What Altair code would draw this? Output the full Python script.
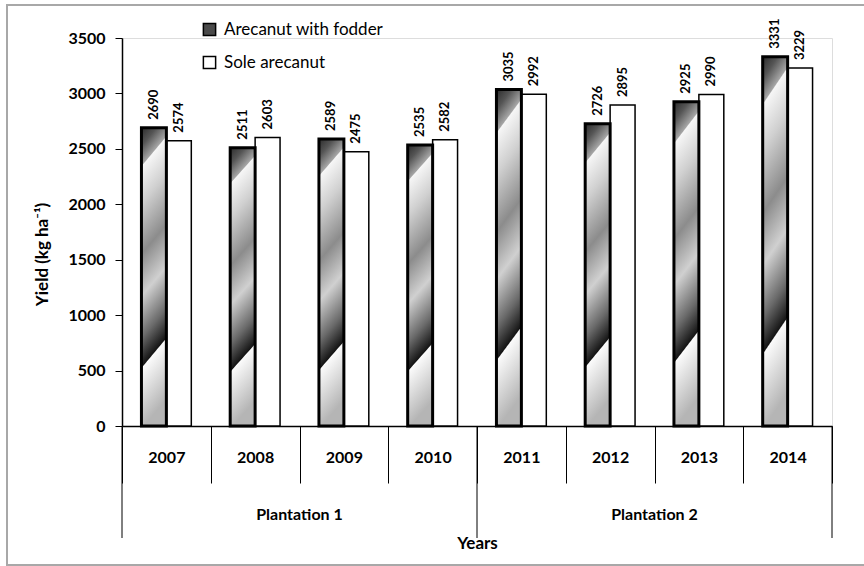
import altair as alt
import pandas as pd

# Yield of arecanut per year, two treatments
years = ["2007", "2008", "2009", "2010", "2011", "2012", "2013", "2014"]
series = ["Arecanut with fodder", "Sole arecanut"]
fodder = [2690, 2511, 2589, 2535, 3035, 2726, 2925, 3331]
sole = [2574, 2603, 2475, 2582, 2992, 2895, 2990, 3229]
plantation_labels = ["Plantation 1", "Plantation 2"]
plantation_mid_years = ["2008", "2012"]   # label sits at the right edge of this year's band
plantation_start_years = ["2007", "2011"]
last_year = ["2014"]

rows = []
for i, yr in enumerate(years):
    rows.append({"year": yr, "series": series[0], "yield": fodder[i]})
    rows.append({"year": yr, "series": series[1], "yield": sole[i]})
df = pd.DataFrame(rows)

W, H = 710, 388
FONT = "Lato"

# Diagonal striped grey gradient for the fodder bars
stripe = {
    "gradient": "linear",
    "x1": 0, "y1": 0, "x2": 0.1, "y2": 1,
    "stops": [
        {"offset": 0.00, "color": "#2b2b2b"},
        {"offset": 0.06, "color": "#555555"},
        {"offset": 0.125, "color": "#a5a5a5"},
        {"offset": 0.13, "color": "#f6f6f6"},
        {"offset": 0.25, "color": "#d0d0d0"},
        {"offset": 0.42, "color": "#8c8c8c"},
        {"offset": 0.56, "color": "#d0d0d0"},
        {"offset": 0.70, "color": "#6a6a6a"},
        {"offset": 0.795, "color": "#151515"},
        {"offset": 0.80, "color": "#fbfbfb"},
        {"offset": 0.90, "color": "#d8d8d8"},
        {"offset": 1.00, "color": "#b5b5b5"},
    ],
}

x_axis = alt.Axis(
    title="Years", labelAngle=0, tickBand="extent", tickSize=57,
    tickColor="black", tickWidth=1, domainColor="black", domainWidth=1.5,
    labelPadding=-34, labelFont=FONT, labelFontSize=16, labelFontWeight="bold",
    labelColor="black", titleFont=FONT, titleFontSize=17, titleFontWeight="bold",
    titleColor="black", titleY=117, titleBaseline="middle",
)
x_scale = alt.Scale(domain=years, paddingInner=0, paddingOuter=0)
x_enc = alt.X("year:N", sort=years, scale=x_scale, axis=x_axis)
xo_enc = alt.XOffset("series:N", scale=alt.Scale(domain=series, paddingInner=0, paddingOuter=0.78))
y_enc = alt.Y(
    "yield:Q",
    scale=alt.Scale(domain=[0, 3500], nice=False),
    axis=alt.Axis(
        title="Yield (kg ha⁻¹)", values=list(range(0, 3501, 500)), format="d", grid=False,
        tickSize=7, tickColor="black", domainColor="black", domainWidth=1.5,
        labelPadding=10, labelFont=FONT, labelFontSize=16, labelFontWeight="bold",
        labelColor="black", titleFont=FONT, titleFontSize=17, titleFontWeight="bold",
        titleColor="black", titleAngle=270, titleX=-80, titleY=216,
        titleAlign="center", titleBaseline="middle",
    ),
)

frame = alt.Chart(pd.DataFrame({"k": [0]})).mark_rect(
    fill=None, stroke="#a8a8a8", strokeWidth=2
).encode(
    x=alt.value(-115), x2=alt.value(W + 40),
    y=alt.value(-33), y2=alt.value(H + 139),
)

bars = alt.Chart(df).mark_bar(stroke="black", strokeWidth=1.5).encode(
    x=x_enc, xOffset=xo_enc, y=y_enc,
    fill=alt.Fill(
        "series:N",
        scale=alt.Scale(domain=series, range=["#4a4a4a", "white"]),
        legend=alt.Legend(
            title=None, orient="none", legendX=79, legendY=-17, direction="vertical",
            symbolType="square", symbolSize=150, symbolStrokeColor="black",
            symbolStrokeWidth=1.5, labelFont=FONT, labelFontSize=17, labelColor="black",
            rowPadding=14, labelOffset=6, padding=0,
        ),
    ),
)

fodder_bars = alt.Chart(df).transform_filter(
    alt.datum.series == series[0]
).mark_bar(fill=stripe, stroke="black", strokeWidth=3).encode(
    x=x_enc, xOffset=xo_enc, y=y_enc,
)

values = alt.Chart(df).mark_text(
    angle=270, align="left", baseline="middle", dx=8,
    font=FONT, fontSize=13, fontWeight="bold", color="black",
).encode(x=x_enc, xOffset=xo_enc, y=y_enc, text=alt.Text("yield:Q", format="d"))

long_rules_left = alt.Chart(pd.DataFrame({"year": plantation_start_years})).mark_rule(
    color="black", strokeWidth=1
).encode(
    x=alt.X("year:N", sort=years, scale=x_scale, axis=x_axis, bandPosition=0),
    y=alt.value(H), y2=alt.value(H + 112),
)
long_rules_right = alt.Chart(pd.DataFrame({"year": last_year})).mark_rule(
    color="black", strokeWidth=1
).encode(
    x=alt.X("year:N", sort=years, scale=x_scale, axis=x_axis, bandPosition=1),
    y=alt.value(H), y2=alt.value(H + 112),
)

group_labels = alt.Chart(
    pd.DataFrame({"year": plantation_mid_years, "label": plantation_labels})
).mark_text(
    font=FONT, fontSize=16, fontWeight="bold", color="black", baseline="middle"
).encode(
    x=alt.X("year:N", sort=years, scale=x_scale, axis=x_axis, bandPosition=1),
    y=alt.value(H + 89), text="label:N",
)

chart = alt.layer(
    frame, bars, fodder_bars, values, long_rules_left, long_rules_right, group_labels
).properties(
    width=W, height=H,
    autosize=alt.AutoSizeParams(type="none"),
    padding={"left": 122, "top": 38, "right": 32, "bottom": 140},
).configure_view(stroke=None).configure(background="white")

chart.save("out.html", embed_options={"renderer": "svg", "actions": False})
